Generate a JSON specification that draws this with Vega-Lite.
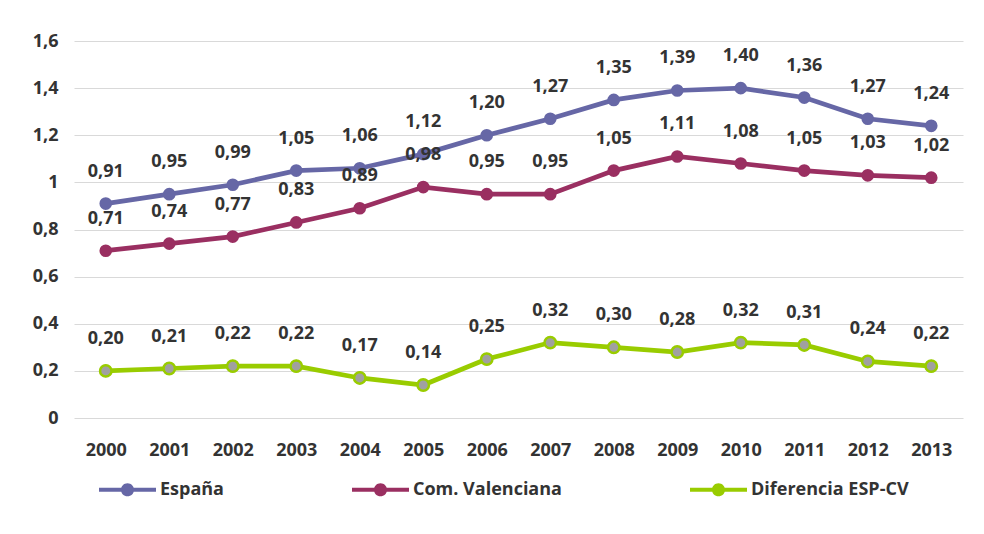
{
  "$schema": "https://vega.github.io/schema/vega-lite/v6.json",
  "width": 889,
  "height": 377,
  "autosize": "none",
  "padding": {"left": 74, "top": 41, "right": 21, "bottom": 116},
  "background": "white",
  "config": {
    "locale": {"number": {"decimal": ",", "thousands": ".", "grouping": [3], "currency": ["", " €"]}},
    "view": {"stroke": null},
    "font": "Open Sans"
  },
  "data": {
    "values": [
      {"year": "2000", "series": "España", "value": 0.91},
      {"year": "2001", "series": "España", "value": 0.95},
      {"year": "2002", "series": "España", "value": 0.99},
      {"year": "2003", "series": "España", "value": 1.05},
      {"year": "2004", "series": "España", "value": 1.06},
      {"year": "2005", "series": "España", "value": 1.12},
      {"year": "2006", "series": "España", "value": 1.20},
      {"year": "2007", "series": "España", "value": 1.27},
      {"year": "2008", "series": "España", "value": 1.35},
      {"year": "2009", "series": "España", "value": 1.39},
      {"year": "2010", "series": "España", "value": 1.40},
      {"year": "2011", "series": "España", "value": 1.36},
      {"year": "2012", "series": "España", "value": 1.27},
      {"year": "2013", "series": "España", "value": 1.24},
      {"year": "2000", "series": "Com. Valenciana", "value": 0.71},
      {"year": "2001", "series": "Com. Valenciana", "value": 0.74},
      {"year": "2002", "series": "Com. Valenciana", "value": 0.77},
      {"year": "2003", "series": "Com. Valenciana", "value": 0.83},
      {"year": "2004", "series": "Com. Valenciana", "value": 0.89},
      {"year": "2005", "series": "Com. Valenciana", "value": 0.98},
      {"year": "2006", "series": "Com. Valenciana", "value": 0.95},
      {"year": "2007", "series": "Com. Valenciana", "value": 0.95},
      {"year": "2008", "series": "Com. Valenciana", "value": 1.05},
      {"year": "2009", "series": "Com. Valenciana", "value": 1.11},
      {"year": "2010", "series": "Com. Valenciana", "value": 1.08},
      {"year": "2011", "series": "Com. Valenciana", "value": 1.05},
      {"year": "2012", "series": "Com. Valenciana", "value": 1.03},
      {"year": "2013", "series": "Com. Valenciana", "value": 1.02},
      {"year": "2000", "series": "Diferencia ESP-CV", "value": 0.20},
      {"year": "2001", "series": "Diferencia ESP-CV", "value": 0.21},
      {"year": "2002", "series": "Diferencia ESP-CV", "value": 0.22},
      {"year": "2003", "series": "Diferencia ESP-CV", "value": 0.22},
      {"year": "2004", "series": "Diferencia ESP-CV", "value": 0.17},
      {"year": "2005", "series": "Diferencia ESP-CV", "value": 0.14},
      {"year": "2006", "series": "Diferencia ESP-CV", "value": 0.25},
      {"year": "2007", "series": "Diferencia ESP-CV", "value": 0.32},
      {"year": "2008", "series": "Diferencia ESP-CV", "value": 0.30},
      {"year": "2009", "series": "Diferencia ESP-CV", "value": 0.28},
      {"year": "2010", "series": "Diferencia ESP-CV", "value": 0.32},
      {"year": "2011", "series": "Diferencia ESP-CV", "value": 0.31},
      {"year": "2012", "series": "Diferencia ESP-CV", "value": 0.24},
      {"year": "2013", "series": "Diferencia ESP-CV", "value": 0.22}
    ]
  },
  "encoding": {
    "x": {
      "field": "year", "type": "ordinal", "title": null,
      "scale": {"type": "point", "padding": 0.5},
      "axis": {"labelAngle": 0, "domain": false, "ticks": false, "labelPadding": 23,
               "labelFont": "Open Sans", "labelFontSize": 18, "labelFontWeight": "bold", "labelColor": "#333333"}
    },
    "y": {
      "field": "value", "type": "quantitative", "title": null,
      "scale": {"domain": [0, 1.6], "nice": false},
      "axis": {"values": [0, 0.2, 0.4, 0.6, 0.8, 1, 1.2, 1.4, 1.6], "format": ".1~f",
               "domain": false, "ticks": false, "labelPadding": 16, "gridColor": "#d9d9d9", "gridWidth": 1,
               "labelFont": "Open Sans", "labelFontSize": 18, "labelFontWeight": "bold", "labelColor": "#333333"}
    }
  },
  "layer": [
    {
      "mark": {"type": "line", "strokeWidth": 4.7},
      "encoding": {
        "color": {"field": "series", "type": "nominal",
                  "scale": {"domain": ["España", "Com. Valenciana", "Diferencia ESP-CV"], "range": ["#6667A6", "#9A2F61", "#99CC00"]},
                  "legend": {"title": null, "orient": "none", "legendX": 25, "legendY": 420, "direction": "horizontal",
                             "symbolType": "M-1,-0.07L1,-0.07L1,0.07L-1,0.07Z M-0.23,0A0.23,0.23,0,1,1,0.23,0A0.23,0.23,0,1,1,-0.23,0Z",
                             "symbolSize": 3249, "symbolStrokeWidth": 0, "symbolOpacity": 1, "labelOffset": 4, "columnPadding": 128,
                             "padding": 0, "labelFont": "Open Sans", "labelFontSize": 18, "labelFontWeight": "bold", "labelColor": "#333333", "labelLimit": 300,
                             "encode": {"symbols": {"update": {"fill": {"scale": "color", "field": "value"}, "strokeWidth": {"value": 0}}}}}}
      }
    },
    {
      "mark": {"type": "point", "filled": true, "size": 160, "opacity": 1},
      "encoding": {
        "color": {"field": "series", "type": "nominal",
                  "scale": {"domain": ["España", "Com. Valenciana", "Diferencia ESP-CV"], "range": ["#6667A6", "#9A2F61", "#99CC00"]},
                  "legend": {"title": null, "orient": "none", "legendX": 25, "legendY": 420, "direction": "horizontal",
                             "symbolType": "M-1,-0.07L1,-0.07L1,0.07L-1,0.07Z M-0.23,0A0.23,0.23,0,1,1,0.23,0A0.23,0.23,0,1,1,-0.23,0Z",
                             "symbolSize": 3249, "symbolStrokeWidth": 0, "symbolOpacity": 1, "labelOffset": 4, "columnPadding": 128,
                             "padding": 0, "labelFont": "Open Sans", "labelFontSize": 18, "labelFontWeight": "bold", "labelColor": "#333333", "labelLimit": 300,
                             "encode": {"symbols": {"update": {"fill": {"scale": "color", "field": "value"}, "strokeWidth": {"value": 0}}}}}}
      }
    },
    {
      "transform": [{"filter": "datum.series === 'Diferencia ESP-CV'"}],
      "mark": {"type": "point", "filled": true, "size": 130, "fill": "#A0A0A0", "stroke": "#99CC00", "strokeWidth": 2.5, "opacity": 1}
    },
    {
      "mark": {"type": "text", "dy": -32, "font": "Open Sans", "fontSize": 18, "fontWeight": "bold", "color": "#333333"},
      "encoding": {
        "text": {"field": "value", "type": "quantitative", "format": ".2f"}
      }
    }
  ]
}
